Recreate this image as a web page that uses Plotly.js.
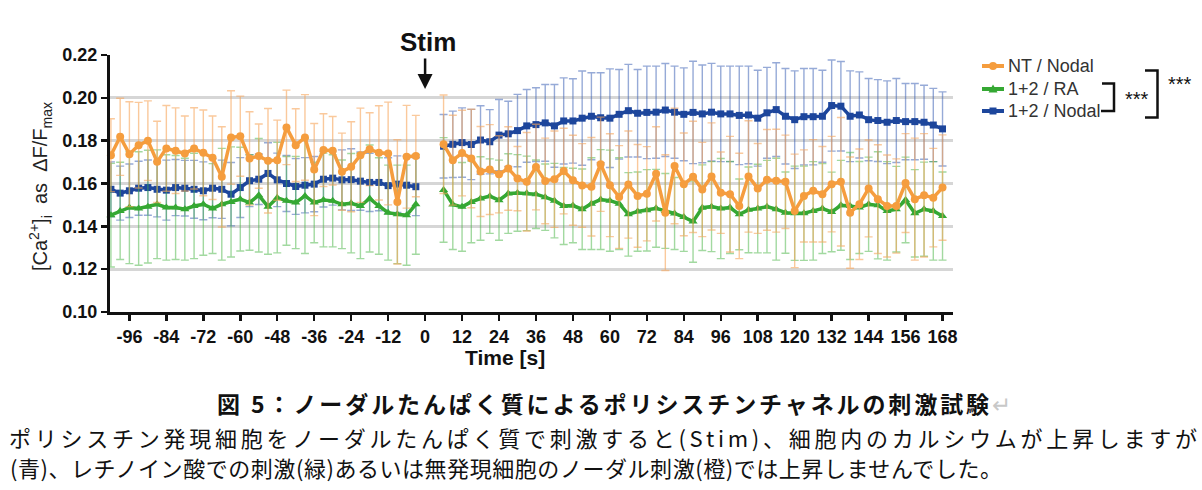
<!DOCTYPE html>
<html><head><meta charset="utf-8">
<script src="https://cdn.plot.ly/plotly-3.0.1.min.js"></script>
<style>html,body{margin:0;padding:0;background:#fff;}#chart{width:1202px;height:490px;}</style>
</head><body><div id="chart"></div>
<script>
// ---- data ----
const timePre = [-102,-99,-96,-93,-90,-87,-84,-81,-78,-75,-72,-69,-66,-63,-60,-57,-54,-51,-48,-45,-42,-39,-36,-33,-30,-27,-24,-21,-18,-15,-12,-9,-6,-3];
const timePost = [6,9,12,15,18,21,24,27,30,33,36,39,42,45,48,51,54,57,60,63,66,69,72,75,78,81,84,87,90,93,96,99,102,105,108,111,114,117,120,123,126,129,132,135,138,141,144,147,150,153,156,159,162,165,168];
const tickVals = [-96,-84,-72,-60,-48,-36,-24,-12,0,12,24,36,48,60,72,84,96,108,120,132,144,156,168];
const yTicks = [0.10,0.12,0.14,0.16,0.18,0.20,0.22];

const seriesNames = ['NT / Nodal','1+2 / RA','1+2 / Nodal'];

const ntNodalPre = [0.1732,0.1818,0.1737,0.1779,0.1800,0.1701,0.1764,0.1753,0.1740,0.1764,
 0.1743,0.1720,0.1631,0.1815,0.1821,0.1717,0.1728,0.1706,0.1709,0.1862,
 0.1779,0.1815,0.1665,0.1756,0.1753,0.1655,0.1678,0.1732,0.1760,0.1743,
 0.1740,0.1514,0.1725,0.1728];
const ntNodalPreErr = [0.017,0.018,0.0245,0.02,0.0186,0.019,0.02,0.02,0.0175,0.019,
 0.02,0.0195,0.0234,0.0218,0.0187,0.0218,0.015,0.0244,0.0187,0.0174,
 0.017,0.02,0.0215,0.017,0.016,0.018,0.021,0.022,0.017,0.022,
 0.024,0.029,0.024,0.019];
const ntNodalPost = [0.1783,0.1709,0.1742,0.1717,0.1656,0.1665,0.1643,0.167,0.1623,0.1608,
 0.1677,0.1612,0.162,0.1658,0.1615,0.1591,0.1585,0.169,0.1592,0.1537,
 0.1595,0.1542,0.1552,0.1645,0.1464,0.1682,0.1596,0.1631,0.1572,0.1633,
 0.1557,0.155,0.1495,0.1633,0.1577,0.1617,0.1613,0.1608,0.1472,0.1542,
 0.1566,0.155,0.1597,0.1608,0.1464,0.1503,0.1577,0.1527,0.1495,0.1495,
 0.1602,0.1527,0.1545,0.1534,0.1581];
const ntNodalPostErr = [0.023,0.021,0.02,0.023,0.021,0.021,0.018,0.0195,0.015,0.023,
 0.02,0.02,0.0225,0.02,0.021,0.0195,0.023,0.022,0.024,0.024,
 0.025,0.024,0.022,0.022,0.027,0.027,0.024,0.026,0.022,0.025,
 0.019,0.027,0.0246,0.026,0.021,0.0235,0.024,0.0218,0.0265,0.0215,
 0.0239,0.0223,0.0223,0.03,0.026,0.0258,0.0226,0.0254,0.0238,0.022,
 0.0231,0.0285,0.0288,0.023,0.0246];

const raPre = [0.1452,0.1472,0.1488,0.1483,0.1492,0.1503,0.1488,0.1488,0.148,0.1495,
 0.1503,0.1483,0.1503,0.1514,0.1527,0.1511,0.1545,0.1492,0.1534,0.1519,
 0.1511,0.1542,0.1511,0.1523,0.1519,0.1503,0.1508,0.1495,0.153,0.1495,
 0.1464,0.1456,0.1452,0.1503];
const raPreErr = [0.0242,0.0227,0.0262,0.0265,0.0263,0.0254,0.0246,0.0243,0.0238,0.0246,
 0.0238,0.021,0.0261,0.0257,0.0242,0.0223,0.0265,0.0222,0.0258,0.0207,
 0.0215,0.0269,0.0188,0.0219,0.0215,0.0207,0.0232,0.0246,0.025,0.0225,
 0.0222,0.023,0.0234,0.0233];
const raPost = [0.157,0.1502,0.1491,0.1514,0.153,0.1541,0.1522,0.1553,0.1556,0.1554,
 0.155,0.1536,0.152,0.1495,0.1497,0.148,0.1506,0.1525,0.152,0.1506,
 0.1456,0.1469,0.1475,0.1484,0.1472,0.146,0.1443,0.1422,0.1487,0.1492,
 0.1483,0.1488,0.1456,0.1477,0.1483,0.1492,0.148,0.1464,0.1461,0.1461,
 0.1472,0.1483,0.1467,0.1498,0.1495,0.1488,0.1503,0.1498,0.1472,0.148,
 0.1523,0.1461,0.148,0.1472,0.1448];
const raPostErr = [0.0244,0.021,0.0207,0.0191,0.0195,0.0174,0.0187,0.0186,0.0179,0.0174,
 0.016,0.0155,0.0174,0.018,0.0174,0.0188,0.0214,0.0233,0.0236,0.0214,
 0.0195,0.0185,0.019,0.0182,0.0175,0.0168,0.016,0.019,0.02,0.021,
 0.0234,0.0215,0.0165,0.02,0.0207,0.0216,0.0238,0.019,0.022,0.022,
 0.023,0.021,0.0186,0.021,0.025,0.0215,0.022,0.025,0.023,0.02,
 0.02,0.0204,0.022,0.023,0.0206];

const nodalPre = [0.1573,0.1555,0.1566,0.1578,0.1581,0.1573,0.1569,0.1581,0.1578,0.1573,
 0.1566,0.1578,0.1573,0.155,0.1581,0.1613,0.162,0.1647,0.1617,0.160,
 0.1586,0.1592,0.1597,0.162,0.1625,0.1617,0.1618,0.1611,0.1605,0.1605,
 0.159,0.1597,0.1592,0.1585];
const nodalPreErr = [0.0128,0.0126,0.0125,0.0126,0.0129,0.0129,0.014,0.0131,0.013,0.0135,
 0.0135,0.0138,0.0136,0.0148,0.014,0.0121,0.0118,0.0143,0.0125,0.0131,
 0.013,0.0129,0.0129,0.013,0.0126,0.014,0.0144,0.0136,0.0136,0.0132,
 0.013,0.0132,0.0136,0.0135];
const nodalPost = [0.1774,0.1783,0.1791,0.1782,0.1803,0.1795,0.1826,0.1832,0.1847,0.1869,
 0.1875,0.1883,0.1869,0.1892,0.1892,0.1905,0.1914,0.1907,0.1905,0.1923,
 0.194,0.1928,0.1932,0.1933,0.1943,0.1933,0.1923,0.1932,0.1925,0.1933,
 0.1925,0.1925,0.1918,0.192,0.1905,0.193,0.1945,0.1914,0.1898,0.1912,
 0.1912,0.1914,0.1964,0.1961,0.1914,0.192,0.1898,0.1894,0.1886,0.1894,
 0.1889,0.1889,0.1886,0.1873,0.1855];
const nodalPostErr = [0.0148,0.0155,0.0162,0.0164,0.016,0.015,0.0166,0.0152,0.0169,0.017,
 0.0172,0.0179,0.0193,0.0201,0.0197,0.022,0.0203,0.021,0.023,0.0209,
 0.0216,0.0204,0.0216,0.0215,0.0217,0.0215,0.0217,0.0239,0.0228,0.0228,
 0.0223,0.0223,0.023,0.0228,0.0224,0.0212,0.0219,0.0223,0.0228,0.0225,
 0.0225,0.0215,0.0213,0.0209,0.0212,0.0201,0.0192,0.0191,0.0193,0.0196,
 0.0178,0.0178,0.0173,0.0171,0.0173];

const captionTitle = '図 5：ノーダルたんぱく質によるポリシスチンチャネルの刺激試験';
const captionLine1 = 'ポリシスチン発現細胞をノーダルたんぱく質で刺激すると(Stim)、細胞内のカルシウムが上昇しますが';
const captionLine2 = '(青)、レチノイン酸での刺激(緑)あるいは無発現細胞のノーダル刺激(橙)では上昇しませんでした。';

// ---- layout helpers ----
const W = 1202, H = 490, ML = 110, MR = 249, MT = 55, MB = 178;
const PW = W - ML - MR, PH = H - MT - MB;
const px = v => (v - ML) / PW;
const py = v => (H - MB - v) / PH;

const ORANGE = '#F59D3E', GREEN = '#35A833', BLUE = '#1D469C';
const ORANGE_E = 'rgba(247,165,90,0.6)', GREEN_E = 'rgba(70,180,65,0.5)', BLUE_E = 'rgba(45,85,175,0.5)';
const SANS = 'Liberation Sans, Arial, sans-serif';
const JP = 'Noto Sans CJK JP, sans-serif';

function mk(name, x, y, err, color, ecolor, symbol, size) {
  return {
    type: 'scatter', mode: 'lines+markers', name: name, x: x, y: y,
    showlegend: false, cliponaxis: false,
    line: {color: color, width: 3.5},
    marker: {color: color, symbol: symbol, size: size, line: {width: 0}},
    error_y: {type: 'data', array: err, visible: true, color: ecolor, thickness: 1.4, width: 4}
  };
}

const traces = [
  mk(seriesNames[2], timePre, nodalPre, nodalPreErr, BLUE, BLUE_E, 'square', 7),
  mk(seriesNames[2], timePost, nodalPost, nodalPostErr, BLUE, BLUE_E, 'square', 7),
  mk(seriesNames[1], timePre, raPre, raPreErr, GREEN, GREEN_E, 'triangle-up', 8),
  mk(seriesNames[1], timePost, raPost, raPostErr, GREEN, GREEN_E, 'triangle-up', 8),
  mk(seriesNames[0], timePre, ntNodalPre, ntNodalPreErr, ORANGE, ORANGE_E, 'circle', 8),
  mk(seriesNames[0], timePost, ntNodalPost, ntNodalPostErr, ORANGE, ORANGE_E, 'circle', 8)
];

function pathShape(pts, color, width, fill, close) {
  let d = '';
  pts.forEach((p, i) => { d += (i ? ' L ' : 'M ') + px(p[0]) + ' ' + py(p[1]); });
  if (close) d += ' Z';
  const s = {type: 'path', xref: 'paper', yref: 'paper', path: d, line: {color: color, width: width}};
  if (fill) s.fillcolor = fill;
  return s;
}

// custom legend (rows)
const legRows = [
  {name: seriesNames[0], color: ORANGE, y: 66, mark: 'circle'},
  {name: seriesNames[1], color: GREEN, y: 89, mark: 'triangle'},
  {name: seriesNames[2], color: BLUE, y: 111, mark: 'square'}
];
const legShapes = [], legAnn = [];
legRows.forEach(r => {
  legShapes.push(pathShape([[982, r.y], [1004, r.y]], r.color, 4));
  const cx = 993;
  if (r.mark === 'circle') {
    legShapes.push({type: 'circle', xref: 'paper', yref: 'paper', x0: px(cx - 4), x1: px(cx + 4),
      y0: py(r.y + 4), y1: py(r.y - 4), fillcolor: r.color, line: {width: 0}});
  } else if (r.mark === 'square') {
    legShapes.push({type: 'rect', xref: 'paper', yref: 'paper', x0: px(cx - 3.5), x1: px(cx + 3.5),
      y0: py(r.y + 3.5), y1: py(r.y - 3.5), fillcolor: r.color, line: {width: 0}});
  } else {
    legShapes.push(pathShape([[cx - 4.5, r.y + 3.5], [cx + 4.5, r.y + 3.5], [cx, r.y - 4.5]], r.color, 0, r.color, true));
  }
  legAnn.push({text: r.name, xref: 'paper', yref: 'paper', x: px(1006), y: py(r.y), xanchor: 'left', yanchor: 'middle',
    showarrow: false, font: {family: SANS, size: 18, color: '#333'}});
});

const layout = {
  width: W, height: H,
  margin: {l: ML, r: MR, t: MT, b: MB, autoexpand: false},
  paper_bgcolor: '#fff', plot_bgcolor: '#fff',
  font: {family: SANS, color: '#111'},
  showlegend: false,
  xaxis: {
    range: [-102.3, 171.4], tickmode: 'array', tickvals: tickVals,
    ticktext: tickVals.map(String),
    showgrid: false, zeroline: false, showline: true, linecolor: '#111', linewidth: 3,
    ticks: 'outside', ticklen: 6, tickwidth: 2.5, tickcolor: '#111',
    tickfont: {family: SANS, size: 18, color: '#111', weight: 'bold'}
  },
  yaxis: {
    range: [0.10, 0.22], tickmode: 'array', tickvals: yTicks,
    ticktext: yTicks.map(v => v.toFixed(2)),
    showgrid: true, gridcolor: '#d6d6d6', gridwidth: 3, zeroline: false,
    showline: true, linecolor: '#111', linewidth: 3,
    ticks: 'outside', ticklen: 6, tickwidth: 2.5, tickcolor: '#111',
    tickfont: {family: SANS, size: 18, color: '#111', weight: 'bold'}
  },
  shapes: [
    pathShape([[1102, 83.5], [1114, 83.5], [1114, 111], [1101, 111]], '#111', 2.5),
    pathShape([[1145, 70.5], [1157.5, 70.5], [1157.5, 117.5], [1145, 117.5]], '#111', 2.5)
  ].concat(legShapes),
  annotations: [
    {text: '<b>Stim</b>', xref: 'x', yref: 'paper', x: 1, y: py(42), xanchor: 'center', yanchor: 'middle', showarrow: false,
     font: {family: SANS, size: 26, color: '#111'}},
    {text: '', xref: 'x', yref: 'y', x: 0, y: 0.2041, ax: 0, ay: -32, showarrow: true,
     arrowhead: 2, arrowsize: 1.2, arrowwidth: 2.5, arrowcolor: '#111'},
    {text: '***', xref: 'paper', yref: 'paper', x: px(1137), y: py(99), xanchor: 'center', yanchor: 'middle', showarrow: false,
     font: {family: SANS, size: 20, color: '#111'}},
    {text: '***', xref: 'paper', yref: 'paper', x: px(1180), y: py(84), xanchor: 'center', yanchor: 'middle', showarrow: false,
     font: {family: SANS, size: 20, color: '#111'}},
    {text: '[Ca<sup>2+</sup>]<sub>i</sub>&nbsp; as &nbsp;ΔF/F<sub>max</sub>', xref: 'paper', yref: 'paper',
     x: px(40), y: py(187), xanchor: 'center', yanchor: 'middle', textangle: -90, showarrow: false,
     font: {family: SANS, size: 20, color: '#222'}},
    {text: '<b>Time [s]</b>', xref: 'paper', yref: 'paper', x: px(505), y: py(357), xanchor: 'center', yanchor: 'middle', showarrow: false,
     font: {family: SANS, size: 21, color: '#111'}},
    {text: '<b>' + captionTitle + '</b><span style="color:#c8c8c8">↵</span>', xref: 'paper', yref: 'paper',
     x: px(215), y: py(403), xanchor: 'left', yanchor: 'middle', align: 'left', showarrow: false,
     font: {family: JP, size: 23, color: '#111'}},
    {text: captionLine1, xref: 'paper', yref: 'paper',
     x: px(7), y: py(437), xanchor: 'left', yanchor: 'middle', align: 'left', showarrow: false,
     font: {family: JP, size: 22, color: '#111'}},
    {text: captionLine2, xref: 'paper', yref: 'paper',
     x: px(8), y: py(467), xanchor: 'left', yanchor: 'middle', align: 'left', showarrow: false,
     font: {family: JP, size: 22, color: '#111'}}
  ].concat(legAnn)
};

// target widths of the caption lines (justified paragraph)
const captionTargets = {6: 794, 7: 1188, 8: 992};

Plotly.newPlot('chart', traces, layout, {displayModeBar: false, staticPlot: true}).then(gd => {
  document.querySelectorAll('#chart .annotation').forEach(g => {
    const idx = g.getAttribute('data-index');
    if (!(idx in captionTargets)) return;
    const t = g.querySelector('text.annotation-text');
    if (!t) return;
    const n = t.textContent.length;
    const w = t.getBBox().width;
    const ls = (captionTargets[idx] - w) / (n - 1);
    t.style.letterSpacing = ls + 'px';
  });
});
</script>
</body></html>
